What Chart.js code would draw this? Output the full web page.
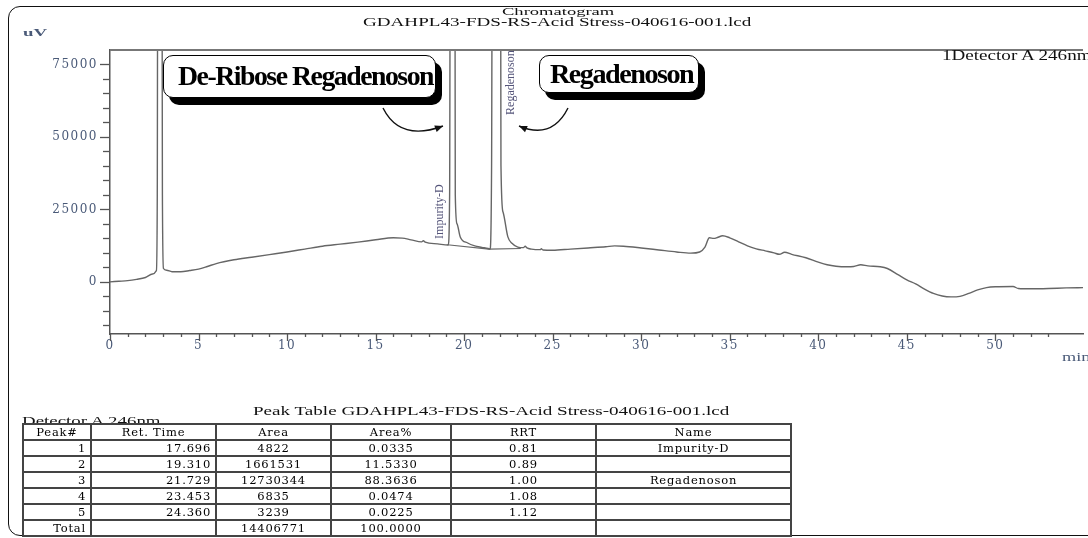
<!DOCTYPE html>
<html>
<head>
<meta charset="utf-8">
<title>Chromatogram</title>
<script src="https://cdn.jsdelivr.net/npm/chart.js@4.4.1/dist/chart.umd.min.js"></script>
<style>
  html, body { margin: 0; padding: 0; background: #fff; }
  body { width: 1088px; height: 538px; overflow: hidden; position: relative; }
  #chart { position: absolute; left: 0; top: 0; }
  .frame { position: absolute; left: 8px; top: 6px; width: 1100px; height: 530px; box-sizing: border-box;
           border: 1.5px solid #111; border-radius: 12px; }
  .txt { position: absolute; white-space: nowrap; line-height: 1; font-family: 'Liberation Serif', serif;
         transform-origin: 0 0; color: #111; }
  .axisTxt { color: #4a5a78; }
  .callout { position: absolute; box-sizing: border-box; border: 1.5px solid #000; border-radius: 10px;
             background: #fff; box-shadow: 6px 7px 0 #000; }
  .calloutTxt { font-weight: bold; font-size: 28px; letter-spacing: -1.5px; color: #000; }
  table { position: absolute; left: 22px; top: 423px; border-collapse: collapse; table-layout: fixed; width: 768px;
          font-family: 'DejaVu Serif', serif; font-size: 11.5px; letter-spacing: 0.8px; color: #000; }
  td, th { border: 2px solid #444; height: 14px; line-height: 14px; padding: 0 4px; font-weight: normal;
           white-space: nowrap; overflow: hidden; }
  .r { text-align: right; }
  .c { text-align: center; }
</style>
</head>
<body>
<div class="frame"></div>
<canvas id="chart" width="1088" height="538"></canvas>

<div class="txt" style="left:502px;top:7px;font-size:10.5px" data-w="113">Chromatogram</div>
<div class="txt" style="left:363px;top:15px;font-size:13.5px" data-w="389">GDAHPL43-FDS-RS-Acid Stress-040616-001.lcd</div>
<div class="txt axisTxt" style="left:23px;top:27px;font-size:11px;font-weight:bold" data-w="24">uV</div>
<div class="txt" style="left:942px;top:49px;font-size:14px" data-w="150">1Detector A 246nm</div>
<div class="txt axisTxt" style="left:1062px;top:350px;font-size:13px" data-w="28">min</div>

<div class="callout" style="left:163px;top:55px;width:273px;height:43px"></div>
<div class="txt calloutTxt" style="left:178px;top:62px" data-w="255">De-Ribose Regadenoson</div>
<div class="callout" style="left:539px;top:55px;width:160px;height:38px"></div>
<div class="txt calloutTxt" style="left:550px;top:60px" data-w="143">Regadenoson</div>

<div class="txt" style="left:253px;top:405px;font-size:12px" data-w="477">Peak Table GDAHPL43-FDS-RS-Acid Stress-040616-001.lcd</div>
<div class="txt" style="left:22px;top:416px;font-size:11.5px" data-w="138">Detector A 246nm</div>

<table id="peakTable">
  <colgroup>
    <col style="width:68px"><col style="width:125px"><col style="width:115px">
    <col style="width:120px"><col style="width:145px"><col style="width:195px">
  </colgroup>
  <thead>
    <tr><th>Peak#</th><th>Ret. Time</th><th>Area</th><th>Area%</th><th>RRT</th><th>Name</th></tr>
  </thead>
  <tbody></tbody>
</table>

<script>
// chromatogram trace (retention time in min, signal in uV)
const retentionMin = [
  0, 0.5, 1, 1.5, 2, 2.4, 2.62, 2.67, 2.72, 2.9, 2.96, 3.02, 3.2, 3.5, 4, 4.5,
  5, 5.5, 6, 7, 8, 9, 10, 11, 12, 13, 14, 15, 16, 16.5, 17, 17.6,
  17.7, 17.8, 18.5, 19.1, 19.18, 19.25, 19.45, 19.5, 19.6, 19.78, 20.2, 20.6, 21, 21.35, 21.46, 21.55,
  21.63, 22.02, 22.08, 22.2, 22.47, 22.7, 23.03, 23.35, 23.45, 23.55, 23.8, 24.3, 24.36, 24.45, 25, 26,
  27, 28, 28.5, 29, 30, 31, 32, 32.8, 33.3, 33.6, 33.85, 34.1, 34.3, 34.6, 35, 35.5,
  36, 36.5, 37, 37.5, 37.8, 38.1, 38.5, 39.3, 40, 40.5, 41, 41.6, 42, 42.4, 42.8, 43.5,
  43.9, 44.5, 45, 45.5, 46, 46.5, 47, 47.5, 48, 48.5, 49, 49.5, 50, 51, 51.3, 52,
  53, 54, 55
];
const signalUv = [
  0, 200, 400, 850, 1500, 2700, 3900, 30000, 250000, 250000, 30000, 4600, 4000, 3500, 3500, 3900,
  4400, 5300, 6300, 7600, 8500, 9400, 10300, 11300, 12300, 13000, 13700, 14500, 15200, 15100, 14500, 13800,
  14200, 13700, 13100, 12700, 30000, 250000, 250000, 30000, 20000, 15500, 13400, 12400, 11900, 11500, 11300, 40000,
  250000, 250000, 40000, 24000, 15500, 13300, 12000, 11800, 12300, 11700, 11300, 11100, 11400, 11000, 10900, 11300,
  11700, 12100, 12400, 12300, 11700, 11000, 10300, 9900, 10300, 12000, 15200, 15000, 15300, 15900, 15200, 13800,
  12400, 11400, 10700, 10000, 9500, 10200, 9500, 8300, 6800, 5900, 5400, 5200, 5300, 5900, 5500, 5200,
  4600, 2500, 700, -700, -2500, -4000, -4900, -5200, -5000, -4000, -2800, -2000, -1700, -1600, -2300, -2400,
  -2300, -2100, -2000
];

// integration baseline drawn under the two main peaks
const baselineMin = [19.05, 21.4, 23.2];
const baselineUv = [12800, 11300, 11500];

// y axis ticks (labels only on every 25000)
const yTickValues = [-15000, -10000, -5000, 0, 5000, 10000, 15000, 20000, 25000, 30000,
                     35000, 40000, 45000, 50000, 55000, 60000, 65000, 70000, 75000];

// peak labels written along the trace
const peakLabelText = ['Impurity-D', 'Regadenoson'];
const peakLabelMin = [18.6, 22.62];
const peakLabelUv = [14800, 57600];

// peak table
const peakNo = ['1', '2', '3', '4', '5'];
const retTime = ['17.696', '19.310', '21.729', '23.453', '24.360'];
const peakArea = ['4822', '1661531', '12730344', '6835', '3239'];
const areaPct = ['0.0335', '11.5330', '88.3636', '0.0474', '0.0225'];
const rrt = ['0.81', '0.89', '1.00', '1.08', '1.12'];
const peakName = ['Impurity-D', '', 'Regadenoson', '', ''];
const totalArea = '14406771';
const totalPct = '100.0000';

// build the table rows
const tbody = document.querySelector('#peakTable tbody');
peakNo.forEach((n, i) => {
    const tr = document.createElement('tr');
    tr.innerHTML = `<td class="r">${n}</td><td class="r">${retTime[i]}</td><td class="c">${peakArea[i]}</td>` +
        `<td class="c">${areaPct[i]}</td><td class="c">${rrt[i]}</td><td class="c">${peakName[i]}</td>`;
    tbody.appendChild(tr);
});
const totalRow = document.createElement('tr');
totalRow.innerHTML = `<td class="r">Total</td><td></td><td class="c">${totalArea}</td><td class="c">${totalPct}</td><td></td><td></td>`;
tbody.appendChild(totalRow);

// squeeze/stretch the printed texts to the widths seen in the report
document.querySelectorAll('[data-w]').forEach((el) => {
    const w = el.offsetWidth;
    el.style.transform = `scaleX(${el.dataset.w / w})`;
});

function drawArrow(ctx, p0, c, p1) {
    ctx.beginPath();
    ctx.moveTo(p0[0], p0[1]);
    ctx.quadraticCurveTo(c[0], c[1], p1[0], p1[1]);
    ctx.stroke();
    const ang = Math.atan2(p1[1] - c[1], p1[0] - c[0]);
    ctx.beginPath();
    ctx.moveTo(p1[0], p1[1]);
    ctx.lineTo(p1[0] - 8 * Math.cos(ang) + 3.5 * Math.sin(ang), p1[1] - 8 * Math.sin(ang) - 3.5 * Math.cos(ang));
    ctx.lineTo(p1[0] - 8 * Math.cos(ang) - 3.5 * Math.sin(ang), p1[1] - 8 * Math.sin(ang) + 3.5 * Math.cos(ang));
    ctx.closePath();
    ctx.fill();
}

const chromatogramExtras = {
    id: 'chromatogramExtras',
    beforeDraw(chart) {
        chart.ctx.letterSpacing = '1.5px';
    },
    afterDraw(chart) {
        const { ctx, chartArea: a, scales: { x, y } } = chart;
        ctx.save();
        ctx.letterSpacing = '0px';

        // top frame line of the plot
        ctx.strokeStyle = '#777';
        ctx.lineWidth = 2;
        ctx.beginPath();
        ctx.moveTo(a.left, a.top);
        ctx.lineTo(a.right, a.top);
        ctx.stroke();

        // tick marks, long ones on labelled values
        ctx.strokeStyle = '#555';
        ctx.lineWidth = 1.3;
        y.ticks.forEach((t) => {
            const py = Math.round(y.getPixelForValue(t.value)) + 0.5;
            const len = t.value % 25000 === 0 ? 10 : 7;
            ctx.beginPath();
            ctx.moveTo(a.left - len, py);
            ctx.lineTo(a.left, py);
            ctx.stroke();
        });
        x.ticks.forEach((t) => {
            if (!Number.isInteger(t.value)) return;
            const px = Math.round(x.getPixelForValue(t.value)) + 0.5;
            const len = t.value % 5 === 0 ? 7 : 3;
            ctx.beginPath();
            ctx.moveTo(px, a.bottom);
            ctx.lineTo(px, a.bottom + len);
            ctx.stroke();
        });

        // vertical peak names
        ctx.fillStyle = '#55557a';
        ctx.font = '12px "Liberation Serif", serif';
        ctx.textBaseline = 'middle';
        ctx.textAlign = 'left';
        peakLabelText.forEach((txt, i) => {
            ctx.save();
            ctx.translate(x.getPixelForValue(peakLabelMin[i]), y.getPixelForValue(peakLabelUv[i]));
            ctx.rotate(-Math.PI / 2);
            ctx.fillText(txt, 0, 0);
            ctx.restore();
        });

        // curved arrows from the call-outs
        ctx.strokeStyle = '#111';
        ctx.fillStyle = '#111';
        ctx.lineWidth = 1.4;
        drawArrow(ctx, [383, 108], [400, 142], [443, 126]);
        drawArrow(ctx, [568, 108], [552, 140], [519, 126]);
        ctx.restore();
    }
};

const ctx = document.getElementById('chart').getContext('2d');
new Chart(ctx, {
    type: 'line',
    data: {
        datasets: [
            {
                label: 'Detector A 246nm',
                data: retentionMin.map((t, i) => ({ x: t, y: signalUv[i] })),
                borderColor: '#666',
                borderWidth: 1.4,
                pointRadius: 0,
                cubicInterpolationMode: 'monotone',
                fill: false,
            },
            {
                label: 'Baseline',
                data: baselineMin.map((t, i) => ({ x: t, y: baselineUv[i] })),
                borderColor: '#666',
                borderWidth: 1.1,
                pointRadius: 0,
                fill: false,
            },
        ],
    },
    options: {
        responsive: false,
        animation: false,
        devicePixelRatio: 1,
        layout: { padding: { top: 50, left: 0, right: 0, bottom: 0 } },
        plugins: {
            legend: { display: false },
            tooltip: { enabled: false },
        },
        scales: {
            x: {
                type: 'linear',
                min: 0,
                max: 54.95,
                grid: { display: false, drawTicks: false },
                border: { display: true, color: '#555', width: 1.5 },
                ticks: {
                    stepSize: 1,
                    autoSkip: false,
                    maxRotation: 0,
                    padding: 5,
                    color: '#4a5a78',
                    font: { family: 'DejaVu Serif', size: 12 },
                    callback: (v) => (v % 5 === 0 ? String(v) : ''),
                },
                afterFit: (scale) => { scale.height = 204; },
            },
            y: {
                min: -18000,
                max: 80000,
                grid: { display: false, drawTicks: false },
                border: { display: true, color: '#555', width: 1.5 },
                ticks: {
                    autoSkip: false,
                    padding: 12,
                    color: '#4a5a78',
                    font: { family: 'DejaVu Serif', size: 12 },
                    callback: (v) => (v % 25000 === 0 ? String(v) : ''),
                },
                afterBuildTicks: (scale) => { scale.ticks = yTickValues.map((v) => ({ value: v })); },
                afterFit: (scale) => { scale.width = 110; },
            },
        },
    },
    plugins: [chromatogramExtras],
});
</script>
</body>
</html>
